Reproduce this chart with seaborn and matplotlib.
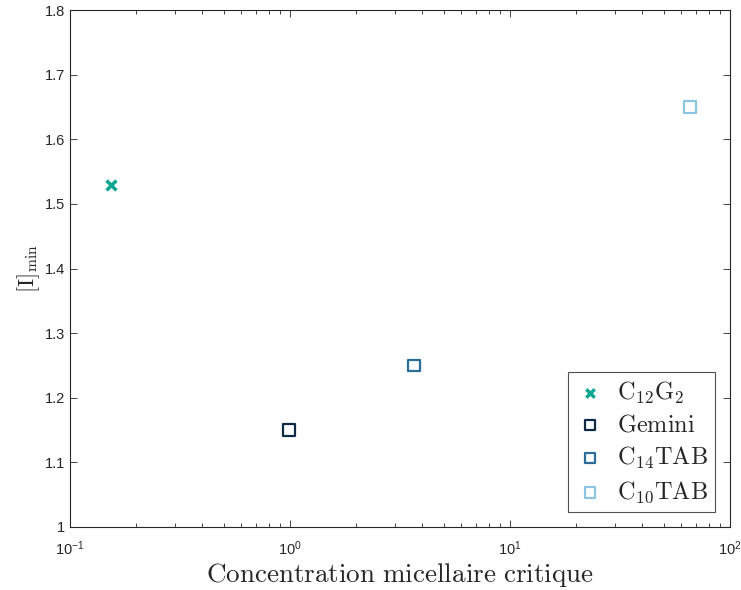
import matplotlib
matplotlib.use("Agg")
import matplotlib.pyplot as plt
import seaborn as sns
import pandas as pd
from matplotlib.ticker import LogLocator, FormatStrFormatter

# data
labels = [r'$\mathrm{C_{12}G_2}$', r'$\mathrm{Gemini}$', r'$\mathrm{C_{14}TAB}$', r'$\mathrm{C_{10}TAB}$']
cmc = [0.153, 0.99, 3.66, 66.0]
i_min = [1.53, 1.15, 1.25, 1.65]
colors = ['#0aa692', '#0d2b45', '#2a6d96', '#8cc6e0']
markers = ['x', 's', 's', 's']

df = pd.DataFrame({'cmc': cmc, 'imin': i_min, 'label': labels})

sns.set_theme(style='ticks')
plt.rcParams['font.family'] = ['Liberation Sans', 'DejaVu Sans']
plt.rcParams['xtick.direction'] = 'in'
plt.rcParams['ytick.direction'] = 'in'
plt.rcParams['xtick.top'] = True
plt.rcParams['ytick.right'] = True
plt.rcParams['axes.linewidth'] = 0.8

fig = plt.figure(figsize=(7.41, 5.9), dpi=100)
ax = fig.add_axes([0.0945, 0.1068, 0.8905, 0.8762])

for i, row in df.iterrows():
    if markers[i] == 'x':
        sns.scatterplot(x=[row['cmc']], y=[row['imin']], ax=ax, marker='x', s=50,
                        color=colors[i], linewidth=2.5, label=row['label'])
    else:
        sns.scatterplot(x=[row['cmc']], y=[row['imin']], ax=ax, marker='s', s=72,
                        facecolor='none', edgecolor=colors[i], linewidth=1.6,
                        label=row['label'])

ax.set_xscale('log')
ax.set_xlim(0.1, 100)
ax.set_ylim(1, 1.8)
ax.set_yticks([1 + 0.1 * k for k in range(9)])
ax.yaxis.set_major_formatter(FormatStrFormatter('%g'))
ax.xaxis.set_minor_locator(LogLocator(subs=range(2, 10)))
ax.tick_params(labelsize=10.5, colors='#262626', length=5, width=0.6)
ax.tick_params(axis='x', pad=9)
ax.tick_params(which='minor', length=3, width=0.6)
for sp in ax.spines.values():
    sp.set_color('#262626')

ax.set_xlabel(r'$\mathrm{Concentration\ micellaire\ critique}$', fontsize=19.5,
              math_fontfamily='cm', labelpad=2)
ax.set_ylabel(r'$[\mathrm{I}]_{\mathrm{min}}$', fontsize=16, math_fontfamily='cm',
              labelpad=2)

leg = ax.legend(loc='lower right', fontsize=17.5, frameon=True, fancybox=False,
                edgecolor='#262626', borderaxespad=0.6, handletextpad=0.5,
                handlelength=1.2, borderpad=0.3, labelspacing=0.35, markerscale=0.85)
leg.get_frame().set_linewidth(0.8)
for t in leg.get_texts():
    t.set_math_fontfamily('cm')

fig.savefig('out.png', dpi=100)
